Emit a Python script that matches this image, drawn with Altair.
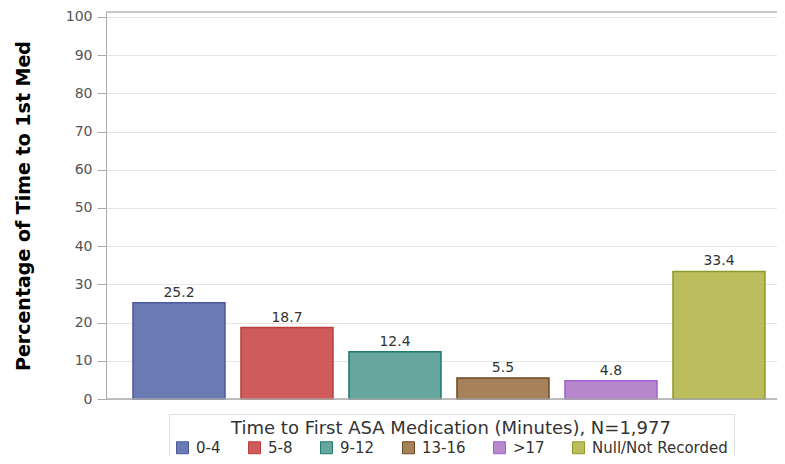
import altair as alt
import pandas as pd

categories = ["0-4", "5-8", "9-12", "13-16", ">17", "Null/Not Recorded"]
values = [25.2, 18.7, 12.4, 5.5, 4.8, 33.4]
fills = ["#6a7bb4", "#d05b5b", "#66a69f", "#a68159", "#b888cc", "#bcbd5d"]
strokes = ["#4a5a9a", "#b94040", "#1e7a6e", "#6b4a25", "#a35ed0", "#8e9a2b"]
y_ticks = [0, 10, 20, 30, 40, 50, 60, 70, 80, 90, 100]

df = pd.DataFrame({"cat": categories, "val": values, "label": [f"{v:.1f}" for v in values]})

FONT = "DejaVu Sans"

x = alt.X(
    "cat:N",
    sort=categories,
    axis=None,
    scale=alt.Scale(paddingInner=0.148, paddingOuter=0.1805, align=0.692),
)
y_scale = alt.Scale(domain=[0, 101.3], nice=False, zero=True)
y_axis = alt.Axis(
    values=y_ticks,
    labelOverlap=False,
    title="Percentage of Time to 1st Med",
    titleFont=FONT,
    titleFontSize=19,
    titleFontWeight="bold",
    titleColor="#000000",
    titlePadding=32,
    labelFont=FONT,
    labelFontSize=14,
    labelColor="#555555",
    labelPadding=5,
    tickSize=9,
    tickColor="#aaaaaa",
    domainColor="#aaaaaa",
    gridColor="#e6e6e6",
    grid=True,
)

bars = (
    alt.Chart(df)
    .mark_bar(strokeWidth=1.5)
    .encode(
        x=x,
        y=alt.Y("val:Q", scale=y_scale, axis=y_axis),
        fill=alt.Fill(
            "cat:N",
            sort=categories,
            scale=alt.Scale(domain=categories, range=fills),
            legend=alt.Legend(
                title="Time to First ASA Medication (Minutes), N=1,977",
                orient="none",
                legendX=63,
                legendY=402,
                direction="horizontal",
                columns=6,
                titleFont=FONT,
                titleFontSize=18,
                titleFontWeight="normal",
                titleColor="#333333",
                titleAnchor="middle",
                titleAlign="center",
                titlePadding=2,
                titleLimit=1000,
                labelFont=FONT,
                labelFontSize=15,
                labelColor="#333333",
                labelOffset=6,
                labelLimit=1000,
                symbolType="square",
                symbolSize=144,
                symbolStrokeWidth=1,
                symbolOpacity=1,
                columnPadding=25,
                padding=6,
                fillColor="#ffffff",
                strokeColor="#dddddd",
            ),
        ),
        stroke=alt.Stroke(
            "cat:N",
            sort=categories,
            scale=alt.Scale(domain=categories, range=strokes),
            legend=None,
        ),
    )
)

text = (
    alt.Chart(df)
    .mark_text(font=FONT, fontSize=14, color="#333333", baseline="bottom", dy=-3)
    .encode(x=x, y=alt.Y("val:Q", scale=y_scale, axis=y_axis), text="label:N")
)

bottom_line = (
    alt.Chart(pd.DataFrame({"v": [0]}))
    .mark_rule(color="#aaaaaa", strokeWidth=1.5)
    .encode(y=alt.Y("v:Q", scale=y_scale, axis=y_axis))
)
top_line = (
    alt.Chart(pd.DataFrame({"v": [101.3]}))
    .mark_rule(color="#bbbbbb", strokeWidth=1.5)
    .encode(y=alt.Y("v:Q", scale=y_scale, axis=y_axis))
)

chart = (
    alt.layer(bars, text, bottom_line, top_line)
    .properties(
        width=671,
        height=387,
        autosize=alt.AutoSizeParams(type="none"),
        padding={"left": 98, "top": 4, "right": 0, "bottom": 57},
    )
    .configure_view(strokeWidth=0)
    .configure(background="#ffffff")
)

chart.save("out.html", embed_options={"renderer": "svg", "actions": False})
